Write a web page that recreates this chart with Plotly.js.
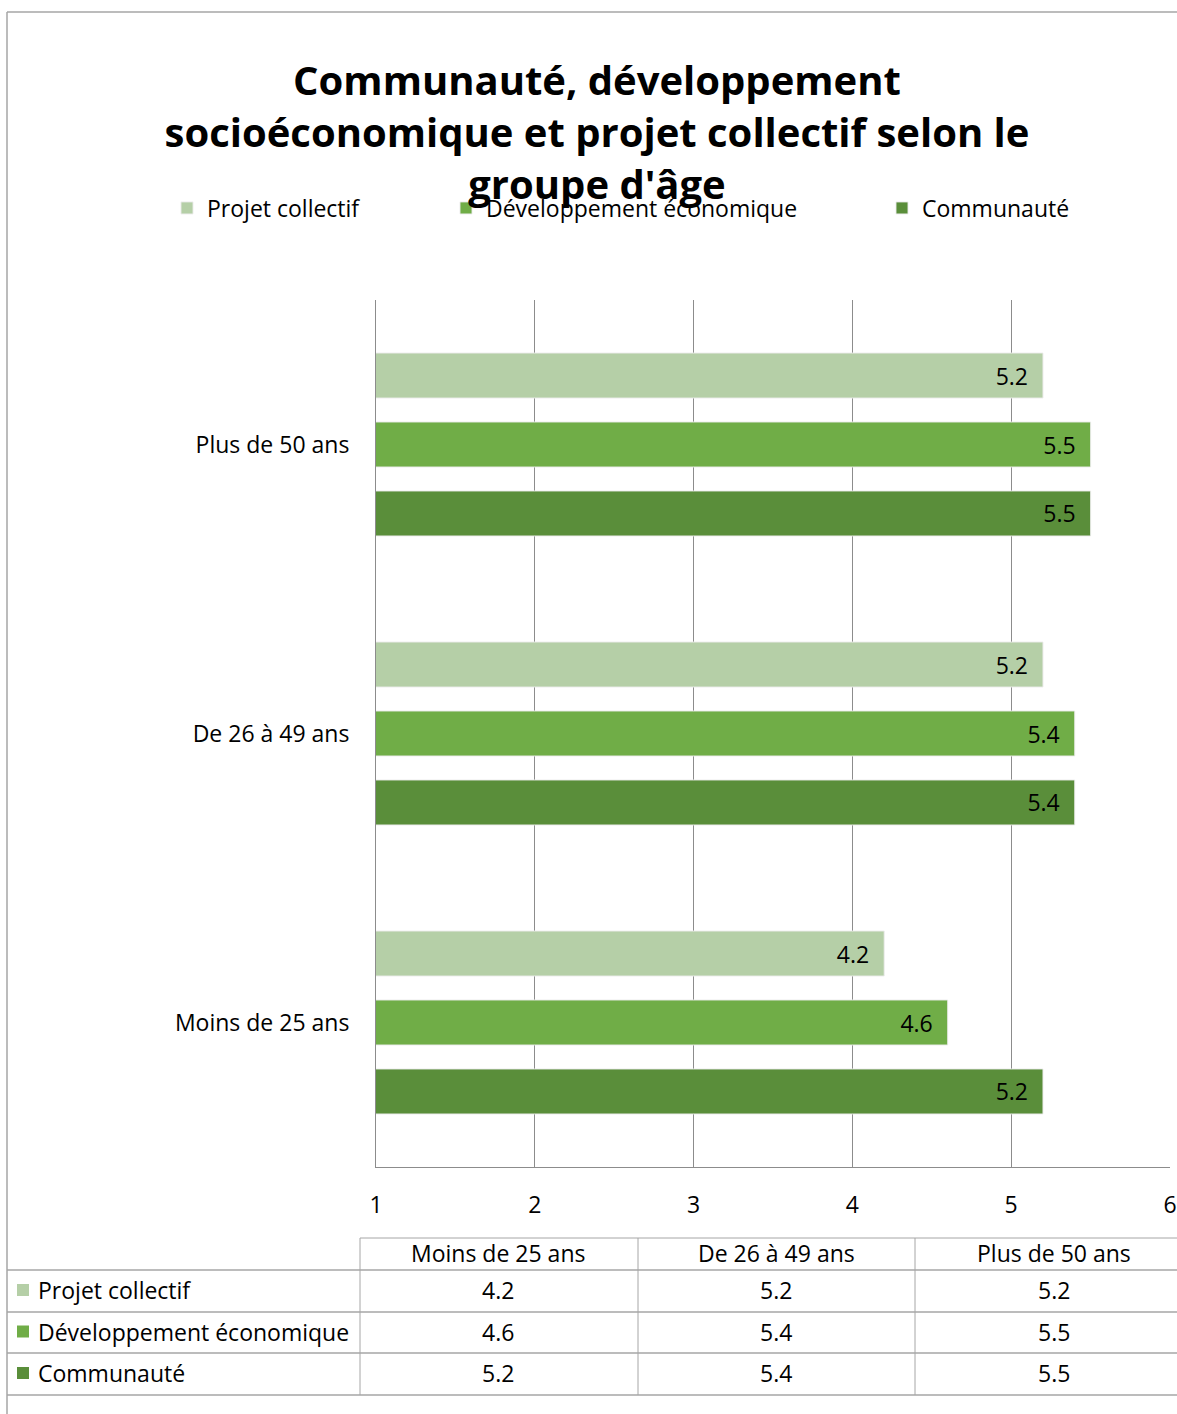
<!DOCTYPE html>
<html>
<head>
<meta charset="utf-8">
<script src="https://cdn.plot.ly/plotly-3.0.1.min.js"></script>
<style>html,body{margin:0;padding:0;background:#fff;}#chart{width:1177px;height:1414px;}</style>
</head>
<body>
<div id="chart"></div>
<script>
// ---- data ----
const categories = ['Moins de 25 ans', 'De 26 à 49 ans', 'Plus de 50 ans'];
const seriesNames = ['Projet collectif', 'Développement économique', 'Communauté'];
const projetCollectif = [4.2, 5.2, 5.2];
const developpementEconomique = [4.6, 5.4, 5.5];
const communaute = [5.2, 5.4, 5.5];
const xTicks = [1, 2, 3, 4, 5, 6];
const titleText = 'Communauté, développement<br>socioéconomique et projet collectif selon le<br>groupe d\'âge';

// ---- styles ----
const colors = ['#B5CFA7', '#70AD47', '#5A8E3A'];
const FONT = 'Open Sans, sans-serif';
const FS = 23;
const W = 1177, H = 1414;
const L = 376, R = 1170, T = 300, B = 1167;
const px2x = p => (p - L) / (R - L);
const py2y = p => (B - p) / (B - T);
const gridCol = '#8C8C8C';
const lineCol = '#A6A6A6';

const seriesValues = [projetCollectif, developpementEconomique, communaute];
const legendIds = ['legend', 'legend2', 'legend3'];

// bars: Communauté first so it sits at the bottom of each group
const order = [2, 1, 0];
const traces = order.map(i => ({
  type: 'bar',
  orientation: 'h',
  name: seriesNames[i],
  y: categories,
  x: seriesValues[i],
  legend: legendIds[i],
  marker: {color: colors[i], line: {color: 'rgba(235,235,235,0.9)', width: 1}},
  texttemplate: '%{x:.1f}\u00a0\u00a0',
  textposition: 'inside',
  insidetextanchor: 'end',
  textangle: 0,
  constraintext: 'none',
  textfont: {family: FONT, size: FS, color: '#000'},
  insidetextfont: {family: FONT, size: FS, color: '#000'},
  hoverinfo: 'x+name'
}));

const shapes = [];
const annotations = [];
// frame
shapes.push({type: 'line', xref: 'paper', yref: 'paper', x0: px2x(7), x1: px2x(W), y0: py2y(12), y1: py2y(12), line: {color: lineCol, width: 1.5}});
shapes.push({type: 'line', xref: 'paper', yref: 'paper', x0: px2x(7), x1: px2x(7), y0: py2y(12), y1: py2y(H), line: {color: lineCol, width: 1.5}});

// data table
const colX = [360, 638, 915, W];
const colCenters = [498, 776, 1054];
const rowY = [1238, 1270, 1312, 1353, 1395];
shapes.push({type: 'line', xref: 'paper', yref: 'paper', x0: px2x(360), x1: px2x(W), y0: py2y(rowY[0]), y1: py2y(rowY[0]), line: {color: lineCol, width: 1}});
for (let r = 1; r < rowY.length; r++) {
  shapes.push({type: 'line', xref: 'paper', yref: 'paper', x0: px2x(7), x1: px2x(W), y0: py2y(rowY[r]), y1: py2y(rowY[r]), line: {color: lineCol, width: 1.5}});
}
for (let c = 0; c < 3; c++) {
  shapes.push({type: 'line', xref: 'paper', yref: 'paper', x0: px2x(colX[c]), x1: px2x(colX[c]), y0: py2y(rowY[0]), y1: py2y(rowY[4]), line: {color: lineCol, width: 1}});
}
// header
categories.forEach((cat, c) => {
  annotations.push({xref: 'paper', yref: 'paper', x: px2x(colCenters[c]), y: py2y((rowY[0] + rowY[1]) / 2 - 1),
    text: cat, showarrow: false, xanchor: 'center', yanchor: 'middle', font: {family: FONT, size: FS, color: '#000'}});
});
// rows
seriesNames.forEach((name, r) => {
  const yc = (rowY[r + 1] + rowY[r + 2]) / 2 - 1;
  shapes.push({type: 'rect', xref: 'paper', yref: 'paper', x0: px2x(17), x1: px2x(29), y0: py2y(yc + 6), y1: py2y(yc - 6), fillcolor: colors[r], line: {width: 0}});
  annotations.push({xref: 'paper', yref: 'paper', x: px2x(36), y: py2y(yc), text: name, showarrow: false, xanchor: 'left', yanchor: 'middle', font: {family: FONT, size: FS, color: '#000'}});
  seriesValues[r].forEach((v, c) => {
    annotations.push({xref: 'paper', yref: 'paper', x: px2x(colCenters[c]), y: py2y(yc), text: v.toFixed(1), showarrow: false, xanchor: 'center', yanchor: 'middle', font: {family: FONT, size: FS, color: '#000'}});
  });
});

const legendBase = {orientation: 'h', xanchor: 'left', yanchor: 'middle', y: py2y(208), bgcolor: 'rgba(0,0,0,0)', font: {family: FONT, size: FS, color: '#000'}, itemclick: false};

const layout = {
  width: W, height: H,
  paper_bgcolor: '#fff', plot_bgcolor: '#fff',
  margin: {l: L, r: W - R, t: T, b: H - B, pad: 0},
  font: {family: FONT, size: FS, color: '#000'},
  title: {text: titleText, font: {family: FONT, size: 40, color: '#000', weight: 'bold'}, x: 597 / W, xanchor: 'center', xref: 'container', yref: 'container', y: 1 - 95 / H, yanchor: 'middle'},
  barmode: 'group',
  bargap: 0.284,
  bargroupgap: 0.348,
  xaxis: {range: [1, 6], tickvals: xTicks, ticktext: xTicks.map(String), showgrid: true, gridcolor: gridCol, gridwidth: 1, showline: true, linecolor: gridCol, linewidth: 1, mirror: false, zeroline: false, ticks: '', ticklabelstandoff: 17, tickfont: {family: FONT, size: FS, color: '#000'}, fixedrange: true},
  yaxis: {type: 'category', categoryorder: 'array', categoryarray: categories, showgrid: false, showline: true, linecolor: gridCol, linewidth: 1, ticks: '', ticklabelstandoff: 21, tickfont: {family: FONT, size: FS, color: '#000'}, fixedrange: true},
  legend: Object.assign({}, legendBase, {x: px2x(167)}),
  legend2: Object.assign({}, legendBase, {x: px2x(446)}),
  legend3: Object.assign({}, legendBase, {x: px2x(882)}),
  shapes: shapes,
  annotations: annotations,
  showlegend: true
};

Plotly.newPlot('chart', traces, layout, {displayModeBar: false, staticPlot: true});
</script>
</body>
</html>
